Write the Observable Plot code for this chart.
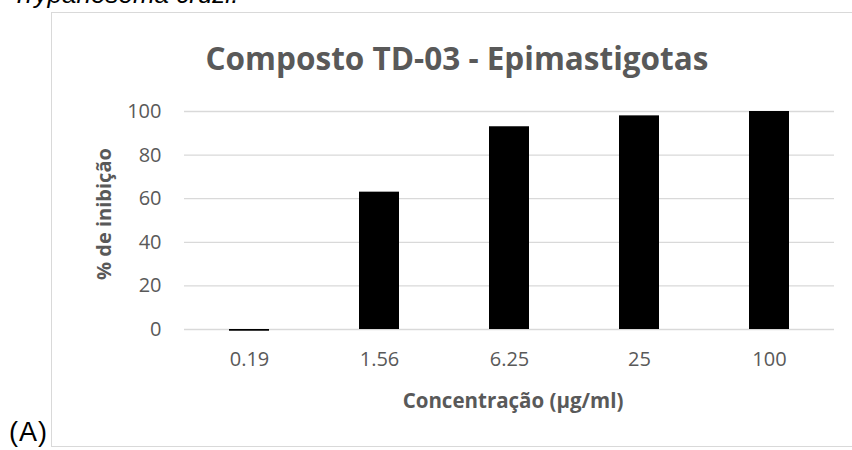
<!DOCTYPE html>
<html><head><meta charset="utf-8">
<script src="https://cdn.jsdelivr.net/npm/d3@7"></script>
<script src="https://cdn.jsdelivr.net/npm/@observablehq/plot@0.6"></script>
<style>
body{margin:0;background:#fff;}
#wrap{position:relative;width:852px;height:450px;overflow:hidden;font-family:"Open Sans",sans-serif;}
#frame{position:absolute;left:51px;top:12px;width:830px;height:435px;border:1.5px solid #d9d9d9;box-sizing:border-box;}
#chart{position:absolute;left:0;top:0;}
.t{position:absolute;white-space:nowrap;color:#595959;font-weight:bold;}
#title{left:457px;top:57px;transform:translate(-50%,-50%);font-size:31.5px;}
#xlab{left:513px;top:400px;transform:translate(-50%,-50%);font-size:20.5px;}
#ylab{left:103px;top:214px;transform:translate(-50%,-50%) rotate(-90deg);font-size:20px;}
#cap{position:absolute;left:12px;top:-21px;font-family:"Liberation Sans",Arial,sans-serif;font-style:italic;font-size:26px;color:#000;white-space:nowrap;}
#lab{position:absolute;left:9px;top:417px;font-family:"Liberation Sans",Arial,sans-serif;font-size:27px;letter-spacing:1px;color:#000;white-space:nowrap;}
</style></head>
<body>
<div id="wrap">
  <div id="frame"></div>
  <div id="chart"></div>
  <div id="cap">Trypanosoma cruzi.</div>
  <div id="lab">(A)</div>
  <div class="t" id="title">Composto TD-03 - Epimastigotas</div>
  <div class="t" id="xlab">Concentração (µg/ml)</div>
  <div class="t" id="ylab">% de inibição</div>
</div>
<script>
const concentrations = ["0.19", "1.56", "6.25", "25", "100"];
const inhibition = [-0.8, 63, 93, 98, 100];
const yTicks = [0, 20, 40, 60, 80, 100];

const data = concentrations.map((c, i) => ({c, v: inhibition[i]}));

const chart = Plot.plot({
  width: 852,
  height: 450,
  marginLeft: 184,
  marginRight: 18,
  marginTop: 111,
  marginBottom: 121,
  style: {fontFamily: "Open Sans", fontSize: "20px", color: "#595959", background: "transparent", overflow: "visible"},
  x: {domain: concentrations, paddingInner: 0.692, paddingOuter: 0.346, tickSize: 0, tickPadding: 22, label: null},
  y: {domain: [0, 100], ticks: yTicks, tickSize: 0, tickPadding: 23, label: null},
  marks: [
    Plot.gridY(yTicks, {stroke: "#d9d9d9", strokeOpacity: 1, strokeWidth: 1.3}),
    Plot.barY(data, {x: "c", y1: 0, y2: "v", fill: "#000", insetLeft: 0, insetRight: 0})
  ]
});
document.getElementById("chart").appendChild(chart);
</script>
</body></html>
